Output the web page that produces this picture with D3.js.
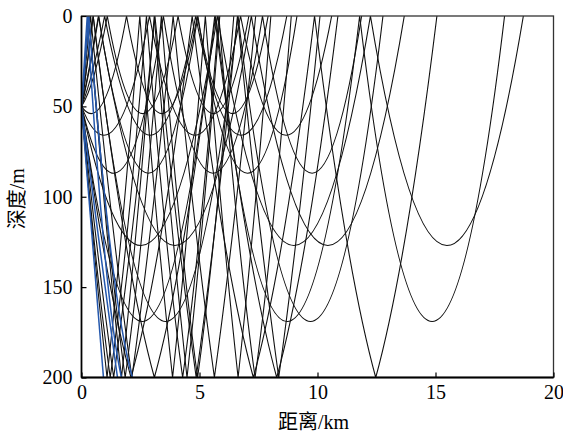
<!DOCTYPE html>
<html><head><meta charset="utf-8">
<script src="https://cdn.jsdelivr.net/npm/d3@7"></script>
<style>body{margin:0;background:#fff}svg{display:block}</style>
</head><body>
<svg id="c" width="563" height="435"></svg>
<script>
// ---- data ----
const xTicks = [0, 5, 10, 15, 20];
const yTicks = [0, 50, 100, 150, 200];
const xLabel = "距离/km";
const yLabel = "深度/m";
const sourceDepth = 50;      // m
const bottomDepth = 200;     // m
const maxSurfaceHits = 3;
// one entry per ray
const rayLaunch    = ["down","up","down","up","down","up","down","up","down","up",
                      "down","up","down","up","down","up","down","up",
                      "down","down","up","up"];
const rayTurnDepth = [54,54,66,66,87,87,127,127,169,169,
                      250,250,300,300,400,400,400,400,
                      1000,1000,215,215];            // turning (or virtual) depth, m
const rayHalfRange = [1.5,1.5,1.93,1.93,2.1,2.1,3.24,3.24,3.07,3.07,
                      4.69,4.69,3.63,3.63,4.74,4.74,5.97,5.97,
                      11.6,19,1.97,2.51];            // vertex-to-surface range, km
const rayLostAtBottom = [0,0,0,0,0,0,0,0,0,0, 0,0,0,0,0,0,0,0, 1,1,1,1];

// ---- layout ----
const m = {l: 81.5, r: 553.5, t: 16, b: 377.5};
const svg = d3.select("#c");
const x = d3.scaleLinear().domain([0, 20]).range([m.l, m.r]);
const y = d3.scaleLinear().domain([0, 200]).range([m.t, m.b]);

svg.append("defs").append("clipPath").attr("id","clip")
  .append("rect").attr("x", m.l).attr("y", m.t).attr("width", m.r - m.l).attr("height", m.b - m.t);

function trace(launch, D, h, lost) {
  const segs = [];
  const k = D / (h * h);
  const off = h * Math.sqrt((D - sourceDepth) / D);
  let xv = launch === "down" ? off : -off;
  let x0 = 0, mode = launch, surf = 0;
  for (let i = 0; i < 60; i++) {
    if (mode === "down") {
      if (D <= bottomDepth) { segs.push([x0, xv, xv]); x0 = xv; mode = "up"; }
      else {
        const xb = xv - h * Math.sqrt((D - bottomDepth) / D);
        segs.push([x0, xb, xv]); x0 = xb;
        if (lost) break;
        xv = 2 * xb - xv; mode = "up";
      }
    } else {
      const xs = xv + h;
      segs.push([x0, xs, xv]); x0 = xs; surf++;
      if (surf >= maxSurfaceHits) break;
      xv = xs + h; mode = "down";
    }
    if (x0 > 20) break;
  }
  return {segs, D, k};
}

function rayPath(r) {
  const p = d3.path();
  r.segs.forEach((s, i) => {
    const [x0, x1, xv] = s;
    const zf = xx => r.D - r.k * (xx - xv) ** 2;
    const slope = -2 * r.k * (x0 - xv);
    const z0 = zf(x0), z1 = zf(x1);
    const xc = (x0 + x1) / 2, zc = z0 + slope * (x1 - x0) / 2;
    if (i === 0) p.moveTo(x(x0), y(z0));
    p.quadraticCurveTo(x(xc), y(zc), x(x1), y(z1));
  });
  return p.toString();
}

const rays = rayLaunch.map((l, i) => Object.assign(trace(l, rayTurnDepth[i], rayHalfRange[i], rayLostAtBottom[i]), {lost: rayLostAtBottom[i]}));

const g = svg.append("g").attr("clip-path", "url(#clip)");
g.selectAll("path.ray").data(rays.filter(r => !r.lost).concat(rays.filter(r => r.lost)))
  .join("path").attr("class","ray")
  .attr("d", rayPath)
  .attr("fill", "none")
  .attr("stroke", r => r.lost ? "#2558ad" : "#111")
  .attr("stroke-width", r => r.lost ? 1.5 : 1.1);

// frame
svg.append("rect").attr("x", m.l).attr("y", m.t).attr("width", m.r - m.l).attr("height", m.b - m.t)
  .attr("fill","none").attr("stroke","#333").attr("stroke-width",1.3);
svg.append("line").attr("x1", m.l).attr("x2", m.r).attr("y1", m.b).attr("y2", m.b).attr("stroke","#000").attr("stroke-width",2);
svg.append("line").attr("x1", m.l).attr("x2", m.l).attr("y1", m.t).attr("y2", m.b).attr("stroke","#000").attr("stroke-width",1.6);

const font = "'Liberation Serif','DejaVu Serif',serif";
const ax = svg.append("g").attr("transform", `translate(0,${m.b})`)
  .call(d3.axisBottom(x).tickValues(xTicks).tickSizeInner(-5).tickSizeOuter(0).tickPadding(8).tickFormat(d3.format("d")));
const ay = svg.append("g").attr("transform", `translate(${m.l},0)`)
  .call(d3.axisLeft(y).tickValues(yTicks).tickSizeInner(-5).tickSizeOuter(0).tickPadding(9).tickFormat(d3.format("d")));
[ax, ay].forEach(a => {
  a.select(".domain").remove();
  a.selectAll("line").attr("stroke","#000").attr("stroke-width",1.2);
  a.selectAll("text").attr("font-family", font).attr("font-size", 20).attr("fill","#000");
});
ax.selectAll("text").attr("dy", "0.66em");

svg.append("text").attr("x", (m.l + m.r) / 2 - 4).attr("y", 429).attr("text-anchor","middle")
  .attr("font-size", 20).attr("fill","#000")
  .call(t => { t.append("tspan").attr("font-family","'Noto Sans CJK SC',sans-serif").text(xLabel.slice(0,2));
               t.append("tspan").attr("font-family", font).text(xLabel.slice(2)); });
svg.append("text").attr("transform", `translate(24,${(m.t + m.b) / 2 + 2}) rotate(-90)`).attr("text-anchor","middle")
  .attr("font-size", 20).attr("fill","#000")
  .call(t => { t.append("tspan").attr("font-family","'Noto Sans CJK SC',sans-serif").text(yLabel.slice(0,2));
               t.append("tspan").attr("font-family", font).text(yLabel.slice(2)); });
</script>
</body></html>
